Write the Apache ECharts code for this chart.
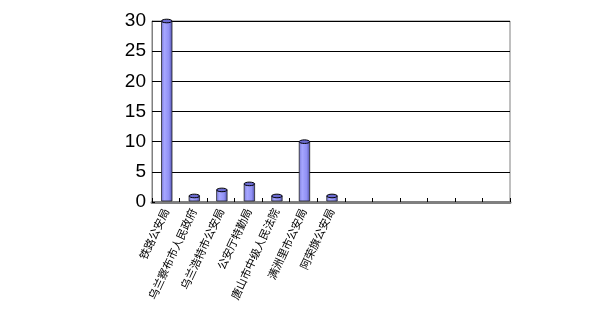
<!DOCTYPE html>
<html>
<head>
<meta charset="utf-8">
<script src="https://cdn.jsdelivr.net/npm/echarts@6/dist/echarts.min.js"></script>
<style>html,body{margin:0;padding:0;background:#fff}#c{width:610px;height:318px}</style>
</head>
<body>
<div id="c"></div>
<script>
const categories = ['铁路公安局','乌兰察布市人民政府','乌兰浩特市公安局','公安厅特勤局','唐山市中级人民法院','满洲里市公安局','阿荣旗公安局','','','','','',''];
const values = [30, 1, 2, 3, 1, 10, 1, null, null, null, null, null, null];
const yTicks = [0, 5, 10, 15, 20, 25, 30];

const chart = echarts.init(document.getElementById('c'), null, {renderer: 'canvas'});
chart.setOption({
  animation: false,
  backgroundColor: '#ffffff',
  grid: {left: 152, right: 100, top: 21, bottom: 116, show: true, borderColor: '#808080', borderWidth: 1, backgroundColor: 'transparent'},
  xAxis: {
    type: 'category',
    data: categories,
    boundaryGap: true,
    axisLine: {show: true, lineStyle: {color: '#808080', width: 3}},
    axisTick: {show: true, interval: 0, length: 4, inside: true, lineStyle: {color: '#000', width: 1}},
    axisLabel: {interval: 0, rotate: 65, margin: 7, fontSize: 11, color: '#000', fontFamily: 'Noto Sans CJK SC'},
    splitLine: {show: false}
  },
  yAxis: {
    type: 'value',
    min: yTicks[0],
    max: yTicks[yTicks.length - 1],
    interval: 5,
    axisLine: {show: true, lineStyle: {color: '#808080', width: 1}},
    axisTick: {show: true, length: 3, inside: true, lineStyle: {color: '#000'}},
    axisLabel: {fontSize: 19, color: '#000', margin: 6, fontFamily: 'Liberation Sans', padding: [7, 0, 0, 0]},
    splitLine: {show: true, lineStyle: {color: '#000', width: 1}}
  },
  series: [{
    type: 'custom',
    data: values.map((v, i) => [i, v]),
    renderItem: function (params, api) {
      const v = api.value(1);
      if (v == null || isNaN(v)) return null;
      const top = api.coord([api.value(0), v]);
      const base = api.coord([api.value(0), 0]);
      const band = api.size([1, 0])[0];
      const w = band * 0.38;
      const x = top[0] - w / 2 + 1;
      const grad = new echarts.graphic.LinearGradient(0, 0, 1, 0, [
        {offset: 0, color: '#7a7ad8'},
        {offset: 0.3, color: '#a6a6ff'},
        {offset: 0.7, color: '#9090f4'},
        {offset: 1, color: '#4e4ea8'}
      ]);
      return {
        type: 'group',
        children: [
          {type: 'rect', shape: {x: x, y: top[1], width: w, height: base[1] - top[1] - 1},
           style: {fill: grad, stroke: '#222', lineWidth: 0.8}},
          {type: 'ellipse', shape: {cx: x + w / 2, cy: top[1], rx: w / 2, ry: 1.8},
           style: {fill: '#6a6ad0', stroke: '#000', lineWidth: 1}}
        ]
      };
    }
  }]
});
</script>
</body>
</html>
